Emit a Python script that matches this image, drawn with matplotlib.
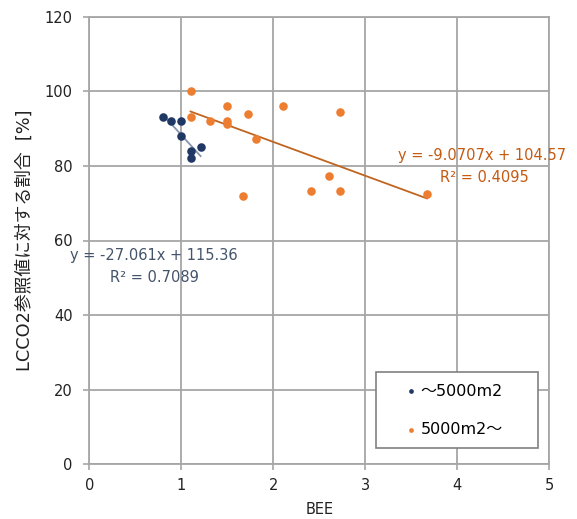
import matplotlib
matplotlib.use("Agg")
import matplotlib.pyplot as plt
from matplotlib.patches import Rectangle
import numpy as np

plt.rcParams['font.family'] = ['DejaVu Sans', 'Noto Sans CJK JP']

# Data
small_x = [0.80, 0.89, 1.00, 1.00, 1.10, 1.21, 1.10]
small_y = [93.2, 92.0, 92.0, 88.0, 84.1, 85.2, 82.0]
large_x = [1.10, 1.10, 1.31, 1.50, 1.50, 1.50, 1.72, 1.81, 2.10, 2.72, 1.67, 2.41, 2.60, 2.72, 3.67]
large_y = [100.0, 93.2, 92.0, 96.0, 92.0, 91.1, 94.0, 87.2, 96.0, 94.4, 72.0, 73.3, 77.2, 73.3, 72.4]
small_fit = (-27.061, 115.36, 0.7089)
large_fit = (-9.0707, 104.57, 0.4095)
labels = ['〜5000m2', '5000m2〜']
xticks = [0, 1, 2, 3, 4, 5]
yticks = [0, 20, 40, 60, 80, 100, 120]

c_small = '#1F3864'
c_large = '#ED7D31'
c_small_line = '#8497B0'
c_large_line = '#C0651F'
c_small_txt = '#44546A'
c_large_txt = '#C55A11'
grid_c = '#A6A6A6'

fig = plt.figure(figsize=(5.77, 5.19), dpi=100)
ax = fig.add_axes([89.3/577, (519-464.3)/519, 460/577, (464.3-16.7)/519])

ax.set_xlim(0, 5)
ax.set_ylim(0, 120)
ax.set_xticks(xticks)
ax.set_yticks(yticks)
ax.grid(True, color=grid_c, linewidth=1.3)
ax.set_axisbelow(True)
for s in ax.spines.values():
    s.set_color(grid_c)
    s.set_linewidth(1.3)
ax.tick_params(axis='both', colors=grid_c, labelcolor='#222222', labelsize=10.5, length=4, width=1.2)
ax.tick_params(axis='y', pad=8)
ax.tick_params(axis='x', pad=6)

# trendlines
xs = np.array([min(small_x), max(small_x)])
ax.plot(xs, small_fit[0]*xs + small_fit[1], color=c_small_line, linewidth=1.3, zorder=2)
xl = np.array([min(large_x), max(large_x)])
ax.plot(xl, large_fit[0]*xl + large_fit[1], color=c_large_line, linewidth=1.3, zorder=2)

ax.scatter(small_x, small_y, s=38, color=c_small, zorder=3, label=labels[0], linewidths=0)
ax.scatter(large_x, large_y, s=38, color=c_large, zorder=3, label=labels[1], linewidths=0)

ax.text(-0.21, 56.1, f'y = {small_fit[0]}x + {small_fit[1]}', color=c_small_txt, fontsize=10.5, va='center', ha='left', clip_on=False)
ax.text(0.23, 50.2, f'R² = {small_fit[2]}', color=c_small_txt, fontsize=10.5, va='center', ha='left')
ax.text(3.36, 82.9, f'y = {large_fit[0]}x + {large_fit[1]}', color=c_large_txt, fontsize=10.5, va='center', ha='left', clip_on=False)
ax.text(3.81, 77.0, f'R² = {large_fit[2]}', color=c_large_txt, fontsize=10.5, va='center', ha='left')

ax.set_xlabel('BEE', fontsize=10.5, color='#222222', labelpad=6)
ax.set_ylabel('LCCO2参照値に対する割合  [%]', fontsize=12.8, color='#222222', labelpad=8)

# legend frame
rect = Rectangle((0.623, 0.036), 0.352, 0.170, transform=ax.transAxes, facecolor='white',
                 edgecolor='#808080', linewidth=1.2, zorder=4)
ax.add_patch(rect)
leg = ax.legend(loc='center left', bbox_to_anchor=(0.683, 0.121), fontsize=11.5, frameon=False,
                markerscale=0.55, handletextpad=0.05, borderpad=0.0,
                labelspacing=1.45, borderaxespad=0.0, handlelength=1.0)
leg.set_zorder(5)

fig.savefig('out.png', dpi=100)
